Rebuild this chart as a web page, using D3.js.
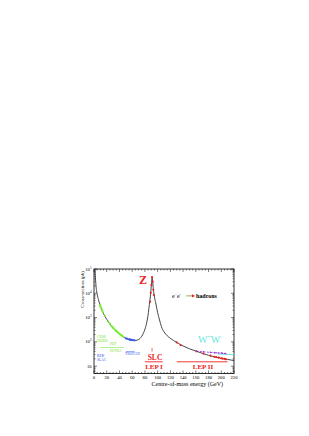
<!DOCTYPE html>
<html>
<head>
<meta charset="utf-8">
<script src="https://cdn.jsdelivr.net/npm/d3@7"></script>
<style>
  body { margin: 0; background: #fff; }
  text { font-family: "Liberation Serif", "DejaVu Serif", serif; }
</style>
</head>
<body>
<svg id="chart"></svg>
<script>
// theory curve: e+e- -> hadrons cross-section (pb) vs sqrt(s) (GeV)
const curveE  = [1.5, 2, 2.5, 3, 4, 5, 7, 10, 12, 15, 20, 25, 30, 35, 40, 45, 50, 55, 60, 65, 70, 75, 80, 83, 85.5, 87, 89, 90, 91, 91.2, 91.6, 92.5, 93.5, 95, 97, 100, 103, 106, 110, 115, 120, 130, 140, 150, 160, 170, 180, 190, 200, 210, 220];
const curveXS = [100000, 55000, 35000, 22000, 13000, 9000, 5500, 3000, 2200, 1450, 850, 550, 380, 280, 215, 170, 140, 125, 118, 115, 125, 170, 330, 650, 1600, 3500, 9500, 20000, 40000, 47000, 40000, 24000, 13000, 7000, 4000, 1600, 800, 420, 260, 180, 140, 95, 68, 52, 42, 34, 28, 24, 21, 19, 17];

// low energy measurements (PETRA, PEP, CESR, DORIS)
const greenE  = [9.5, 10, 10.5, 12, 13, 14, 17, 22, 25, 27.5, 29, 30, 31, 33, 34.5, 35, 36, 38, 39.8, 41.5, 42.5, 43.5, 44.2, 46.3];
const greenXS = [3400, 3000, 2750, 2200, 1900, 1650, 1150, 700, 550, 450, 410, 380, 355, 310, 290, 280, 265, 240, 220, 200, 192, 184, 178, 163];

// TRISTAN
const blueE  = [50, 52, 55, 56, 57, 58, 60, 61.4, 64];
const blueXS = [140, 135, 128, 127, 125, 122, 120, 118, 116];

// LEP I / LEP II
const redE  = [88.2, 89.2, 90.2, 91.2, 92.2, 93.2, 94.2, 130, 136, 161, 172, 183, 189, 192, 196, 200, 202, 205, 207];
const redXS = [4500, 10500, 22000, 46000, 30000, 14000, 8500, 95, 74, 41, 33, 27, 24.5, 23.5, 22.5, 21, 20.5, 20, 19.5];

// W+W- related series
const purpleE  = [161, 172, 183, 189, 192, 196, 200, 202, 205, 207];
const purpleXS = [41, 39, 37, 36, 35.5, 35, 34.5, 34, 33.5, 33];
const cyanE  = [195, 205, 220];
const cyanXS = [32, 31, 30];

const xTicks = [0, 20, 40, 60, 80, 100, 120, 140, 160, 180, 200, 220];
const yTicks = [10, 100, 1000, 10000, 100000];
const yTickExp = ["", "2", "3", "4", "5"];

const W = 309, H = 436;
const svg = d3.select("#chart").attr("width", W).attr("height", H);
svg.append("rect").attr("width", W).attr("height", H).attr("fill", "#fff");

const x = d3.scaleLinear().domain([0, 220]).range([94, 234]);
const y = d3.scaleLog().domain([5, 100000]).range([373.5, 269]);

const plot = svg.append("g");

// clip
svg.append("clipPath").attr("id", "clip")
  .append("rect").attr("x", 94).attr("y", 269).attr("width", 140).attr("height", 104.5);

// frame
plot.append("rect")
  .attr("x", 94).attr("y", 269).attr("width", 140).attr("height", 104.5)
  .attr("fill", "none").attr("stroke", "#000").attr("stroke-width", 0.8);

// x ticks (bottom and top, inward)
const xMinor = d3.range(0, 221, 5);
xMinor.forEach(v => {
  const major = v % 20 === 0;
  const len = major ? 3 : 1.5;
  plot.append("line").attr("x1", x(v)).attr("x2", x(v))
    .attr("y1", 373.5).attr("y2", 373.5 - len).attr("stroke", "#000").attr("stroke-width", 0.5);
  plot.append("line").attr("x1", x(v)).attr("x2", x(v))
    .attr("y1", 269).attr("y2", 269 + len).attr("stroke", "#000").attr("stroke-width", 0.5);
});
xTicks.forEach(v => {
  plot.append("text").attr("x", x(v)).attr("y", 379)
    .attr("text-anchor", "middle").attr("font-size", 4.6).text(v);
});

// y ticks (left and right, inward)
const yMinor = [];
[1, 10, 100, 1000, 10000].forEach(d => d3.range(1, 10).forEach(k => yMinor.push(d * k)));
yMinor.push(100000);
yMinor.filter(v => v >= 5 && v <= 100000).forEach(v => {
  const major = yTicks.includes(v);
  const len = major ? 3 : 1.5;
  plot.append("line").attr("x1", 94).attr("x2", 94 + len)
    .attr("y1", y(v)).attr("y2", y(v)).attr("stroke", "#000").attr("stroke-width", 0.5);
  plot.append("line").attr("x1", 234).attr("x2", 234 - len)
    .attr("y1", y(v)).attr("y2", y(v)).attr("stroke", "#000").attr("stroke-width", 0.5);
});
yTicks.forEach((v, i) => {
  const t = plot.append("text").attr("x", 91.5).attr("y", y(v) + 1.6)
    .attr("text-anchor", "end").attr("font-size", 4.6);
  t.append("tspan").text("10");
  if (yTickExp[i]) t.append("tspan").attr("dy", -2).attr("font-size", 3.2).text(yTickExp[i]);
});

// axis titles
svg.append("text").attr("transform", "translate(84,271) rotate(-90)")
  .attr("text-anchor", "end").attr("font-size", 5).text("Cross-section (pb)");
svg.append("text").attr("x", 223).attr("y", 386)
  .attr("text-anchor", "end").attr("font-size", 6).text("Centre-of-mass energy (GeV)");

const g = svg.append("g").attr("clip-path", "url(#clip)");

const line = d3.line().x(d => x(d[0])).y(d => y(d[1])).curve(d3.curveMonotoneX);

// W+W- lines
g.append("path").datum(d3.zip(cyanE, cyanXS)).attr("d", line)
  .attr("fill", "none").attr("stroke", "#66e6dc").attr("stroke-width", 1);
g.append("path").datum(d3.zip(purpleE, purpleXS)).attr("d", line)
  .attr("fill", "none").attr("stroke", "#9a3ee0").attr("stroke-width", 0.9)
  .attr("stroke-dasharray", "2,1.5");

// main curve
g.append("path").datum(d3.zip(curveE, curveXS)).attr("d", line)
  .attr("fill", "none").attr("stroke", "#333").attr("stroke-width", 0.9);

// measurements
function dots(E, XS, color, r) {
  g.selectAll(null).data(d3.zip(E, XS)).enter().append("circle")
    .attr("cx", d => x(d[0])).attr("cy", d => y(d[1])).attr("r", r).attr("fill", color);
}
dots(greenE, greenXS, "#77ee33", 1.1);
g.selectAll(null).data(d3.zip(blueE, blueXS)).enter().append("line")
  .attr("x1", d => x(d[0])).attr("x2", d => x(d[0]))
  .attr("y1", d => y(d[1] * 1.12)).attr("y2", d => y(d[1] / 1.12))
  .attr("stroke", "#3355ee").attr("stroke-width", 0.5);
dots(blueE, blueXS, "#3355ee", 0.9);
dots(redE, redXS, "#ee2222", 1.1);
dots(purpleE, purpleXS, "#9a3ee0", 0.8);

// experiment annotations
const small = 3.6;
const ann = svg.append("g");
ann.append("text").attr("x", 97).attr("y", 338).attr("font-size", small).attr("fill", "#77dd33").text("CESR");
ann.append("text").attr("x", 97).attr("y", 341.5).attr("font-size", small).attr("fill", "#77dd33").text("DORIS");
ann.append("text").attr("x", 110).attr("y", 345).attr("font-size", small).attr("fill", "#77dd33").text("PEP");
ann.append("line").attr("x1", x(10)).attr("x2", x(47)).attr("y1", 347.5).attr("y2", 347.5)
  .attr("stroke", "#99ee77").attr("stroke-width", 0.8);
ann.append("text").attr("x", 110).attr("y", 351.5).attr("font-size", small).attr("fill", "#77dd33").text("PETRA");
ann.append("line").attr("x1", x(50)).attr("x2", x(64)).attr("y1", 351.5).attr("y2", 351.5)
  .attr("stroke", "#8899ee").attr("stroke-width", 0.8);
ann.append("text").attr("x", 125).attr("y", 355).attr("font-size", small).attr("fill", "#3355ee").text("TRISTAN");
ann.append("text").attr("x", 97).attr("y", 357).attr("font-size", small).attr("fill", "#3355ee").text("KEK");
ann.append("text").attr("x", 97).attr("y", 360.5).attr("font-size", small).attr("fill", "#3355ee").text("SLAC");

// Z / SLC / LEP labels
svg.append("text").attr("x", 143).attr("y", 284).attr("text-anchor", "middle")
  .attr("font-size", 12).attr("font-weight", "bold").attr("fill", "#ee2222").text("Z");
svg.append("line").attr("x1", x(91.2)).attr("x2", x(91.2)).attr("y1", 348).attr("y2", 351.5)
  .attr("stroke", "#ee2222").attr("stroke-width", 0.7);
svg.append("text").attr("x", 155).attr("y", 359.5).attr("text-anchor", "middle")
  .attr("font-size", 7.5).attr("font-weight", "bold").attr("fill", "#ee2222").text("SLC");
svg.append("line").attr("x1", x(80)).attr("x2", x(108)).attr("y1", 361.8).attr("y2", 361.8)
  .attr("stroke", "#ee2222").attr("stroke-width", 0.9);
svg.append("text").attr("x", 154).attr("y", 369).attr("text-anchor", "middle")
  .attr("font-size", 7).attr("font-weight", "bold").attr("fill", "#ee2222").text("LEP I");
svg.append("line").attr("x1", x(130)).attr("x2", x(210)).attr("y1", 361.8).attr("y2", 361.8)
  .attr("stroke", "#ee2222").attr("stroke-width", 0.9);
svg.append("text").attr("x", 203).attr("y", 369).attr("text-anchor", "middle")
  .attr("font-size", 7).attr("font-weight", "bold").attr("fill", "#ee2222").text("LEP II");

// W+W- label
const ww = svg.append("text").attr("x", 198).attr("y", 343)
  .attr("font-size", 10).attr("fill", "#66e6dc");
ww.append("tspan").text("W");
ww.append("tspan").attr("dy", -4).attr("font-size", 6).text("+");
ww.append("tspan").attr("dy", 4).text("W");
ww.append("tspan").attr("dy", -4).attr("font-size", 6).text("-");

// e+e- -> hadrons
const defs = svg.append("defs");
const grad = defs.append("linearGradient").attr("id", "arrowGrad");
grad.append("stop").attr("offset", "0%").attr("stop-color", "#55dd33");
grad.append("stop").attr("offset", "100%").attr("stop-color", "#ee2222");
const pr = svg.append("text").attr("x", 172).attr("y", 298).attr("font-size", 6).attr("fill", "#000");
pr.append("tspan").text("e");
pr.append("tspan").attr("dy", -2.2).attr("font-size", 4).text("+");
pr.append("tspan").attr("dy", 2.2).text("e");
pr.append("tspan").attr("dy", -2.2).attr("font-size", 4).text("-");
svg.append("rect").attr("x", 186).attr("y", 295.5).attr("width", 6.5).attr("height", 0.8).attr("fill", "url(#arrowGrad)");
svg.append("path").attr("d", "M192,294.3 L195,295.9 L192,297.5 Z").attr("fill", "#ee2222");
svg.append("text").attr("x", 196).attr("y", 298).attr("font-size", 6).attr("font-weight", "bold").text("hadrons");
</script>
</body>
</html>
